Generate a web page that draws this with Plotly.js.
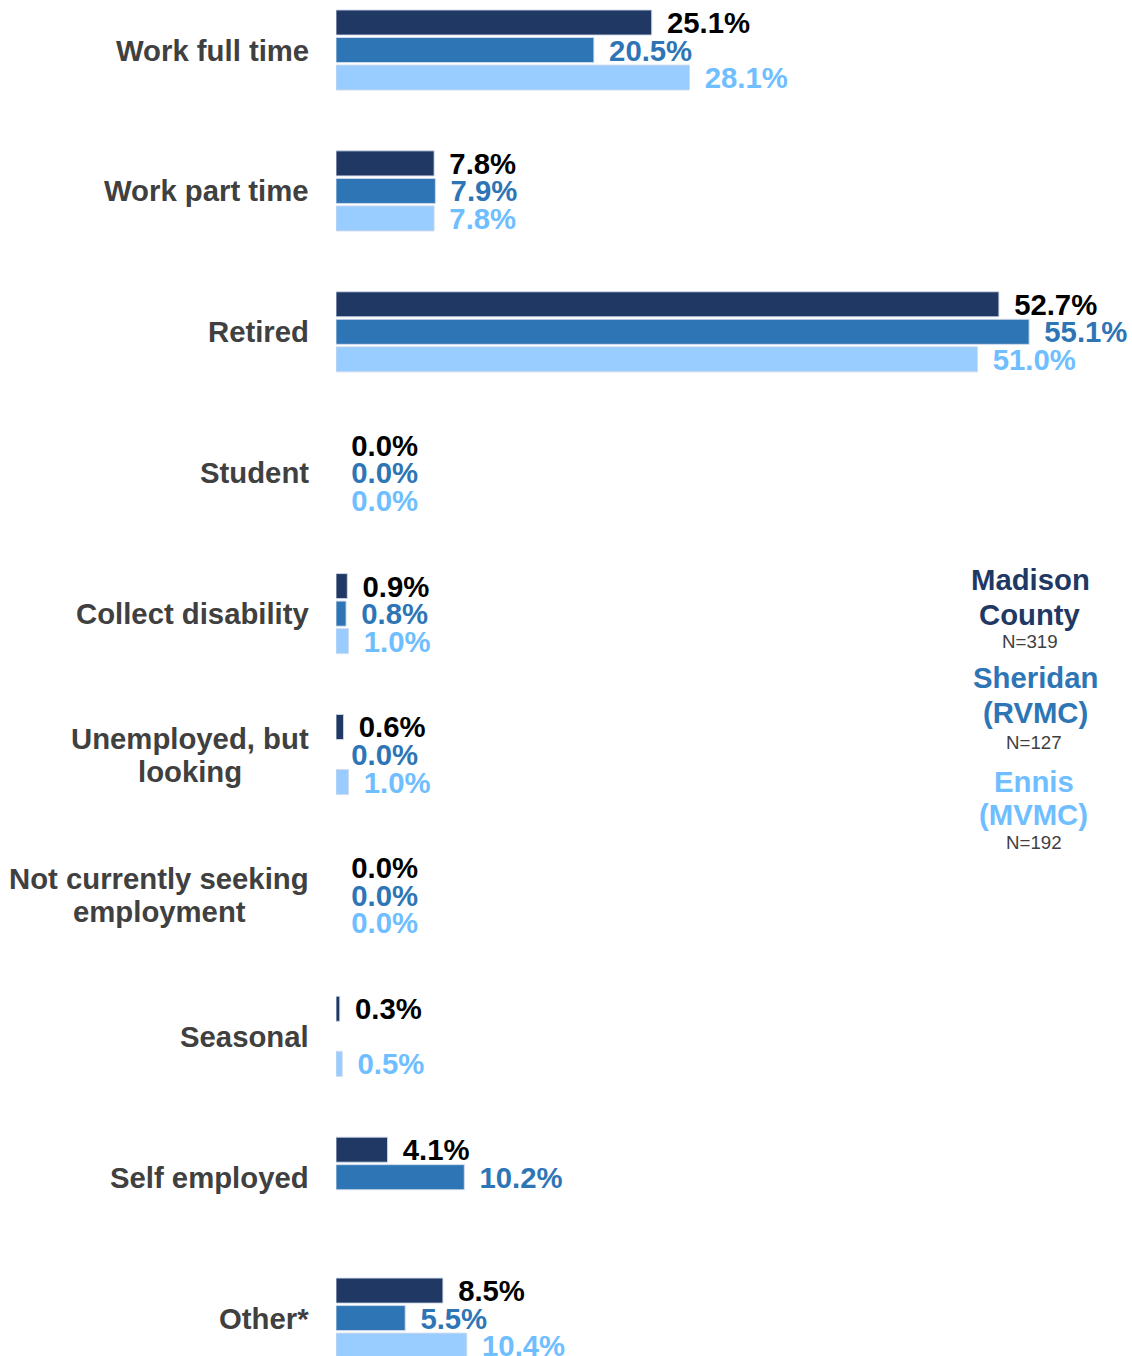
<!DOCTYPE html>
<html>
<head>
<meta charset="utf-8">
<script src="https://cdn.plot.ly/plotly-3.0.1.min.js"></script>
<style>html,body{margin:0;padding:0;background:#fff;}#chart{width:1132px;height:1356px;}</style>
</head>
<body>
<div id="chart"></div>
<script>
const categories = ["Work full time","Work part time","Retired","Student","Collect disability","Unemployed, but<br>looking","Not currently seeking<br>employment","Seasonal","Self employed","Other*"];
const madison  = [25.1, 7.8, 52.7, 0.0, 0.9, 0.6, 0.0, 0.3, 4.1, 8.5];
const sheridan = [20.5, 7.9, 55.1, 0.0, 0.8, 0.0, 0.0, null, 10.2, 5.5];
const ennis    = [28.1, 7.8, 51.0, 0.0, 1.0, 1.0, 0.0, 0.5, null, 10.4];
const seriesNames = ["Madison County", "Sheridan (RVMC)", "Ennis (MVMC)"];
const seriesN = ["N=319", "N=127", "N=192"];

const FONT = '"Liberation Sans", Arial, sans-serif';
const FS = 29.3;
const barColors = ["#1F3864", "#2E75B6", "#99CCFF"];
const labelColors = ["#000000", "#2E75B6", "#6FBEFF"];
const legendColors = ["#1F3864", "#2E75B6", "#6FBEFF"];

const yIdx = categories.map((c, i) => i);
function fmt(v){ return (v === null) ? "" : "\u2004\u200A" + v.toFixed(1) + "%"; }

const data = [madison, sheridan, ennis].map((vals, k) => ({
  type: "bar",
  orientation: "h",
  name: seriesNames[k],
  y: yIdx,
  x: vals,
  text: vals.map(fmt),
  textposition: "outside",
  constraintext: "none",
  cliponaxis: false,
  textfont: {family: FONT, size: FS, color: labelColors[k], weight: "bold"},
  marker: {color: barColors[k], line: {color: "rgba(210,220,235,0.9)", width: vals.map(v => (v ? 1 : 0))}},
  hoverinfo: "skip"
}));

const W = 1132, H = 1356, L = 336;
const LINE = 33;
const annotations = [];
categories.forEach((c, i) => {
  const lines = c.split("<br>");
  lines.forEach((ln, j) => {
    annotations.push({
      xref: "paper", yref: "y", x: 0, y: i, xanchor: "center", yanchor: "middle",
      xshift: 0, yshift: ((lines.length - 1) / 2 - j) * LINE,
      text: "<b>" + ln + "</b>", showarrow: false,
      font: {family: FONT, size: FS, color: "#404040"},
      _group: i
    });
  });
});
const legendLines = [
  {t: "<b>Madison</b>", px: 1030, py: 580, size: FS, c: legendColors[0]},
  {t: "<b>County</b>", px: 1030, py: 614, size: FS, c: legendColors[0]},
  {t: seriesN[0], px: 1030, py: 641, size: 18.7, c: "#404040"},
  {t: "<b>Sheridan</b>", px: 1035, py: 677, size: FS, c: legendColors[1]},
  {t: "<b>(RVMC)</b>", px: 1035, py: 713, size: FS, c: legendColors[1]},
  {t: seriesN[1], px: 1034, py: 742, size: 18.7, c: "#404040"},
  {t: "<b>Ennis</b>", px: 1034, py: 781, size: FS, c: legendColors[2]},
  {t: "<b>(MVMC)</b>", px: 1033, py: 815, size: FS, c: legendColors[2]},
  {t: seriesN[2], px: 1034, py: 842, size: 18.7, c: "#404040"}
];

// right-align each category block at 309px while centering its lines
const canvas = document.createElement("canvas");
const ctx = canvas.getContext("2d");
ctx.font = "bold " + FS + "px " + FONT;
const RIGHT = 309;
const blockWidth = {};
annotations.forEach(a => {
  const w = ctx.measureText(a.text.replace(/<\/?b>/g, "")).width;
  blockWidth[a._group] = Math.max(blockWidth[a._group] || 0, w);
});
annotations.forEach(a => {
  const center = RIGHT - blockWidth[a._group] / 2;
  a.xshift = center - L;
  delete a._group;
});

legendLines.forEach(l => {
  annotations.push({
    xref: "paper", yref: "paper", x: (l.px - L) / (W - L), y: 1 - l.py / H,
    xanchor: "center", yanchor: "middle", text: l.t, showarrow: false,
    font: {family: FONT, size: l.size, color: l.c}
  });
});

const layout = {
  width: W, height: H,
  margin: {l: L, r: 0, t: 0, b: 0, pad: 0},
  paper_bgcolor: "#ffffff", plot_bgcolor: "#ffffff",
  barmode: "group", bargap: 0.414, bargroupgap: 0.09,
  showlegend: false,
  font: {family: FONT},
  xaxis: {range: [0, 63.28], showgrid: false, zeroline: false, showticklabels: false, showline: false, fixedrange: true},
  yaxis: {type: "linear", range: [9.269, -0.355], showgrid: false, zeroline: false, showticklabels: false, showline: false, fixedrange: true},
  annotations: annotations
};

Plotly.newPlot("chart", data, layout, {displayModeBar: false, staticPlot: true});
</script>
</body>
</html>
